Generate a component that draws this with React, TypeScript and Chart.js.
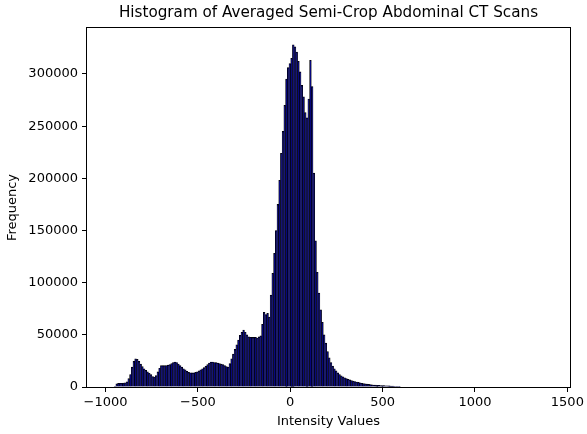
import React, { useEffect, useRef } from "react";
import { Chart, registerables } from "chart.js";

Chart.register(...registerables);

const TITLE = "Histogram of Averaged Semi-Crop Abdominal CT Scans";
const X_LABEL = "Intensity Values";
const Y_LABEL = "Frequency";

const BIN_START = -981;
const BIN_WIDTH = 9.28;

const COUNTS = [
  0, 0, 0, 200, 3000, 3500, 3600, 3600, 3700, 4000,
  5000, 8000, 12000, 19000, 24500, 27000, 26500, 24500, 22000, 19500,
  17500, 16000, 14500, 13200, 12000, 10000, 9500, 11000, 14500, 18000,
  20500, 20500, 20500, 20500, 21000, 21500, 22500, 23500, 24000, 23500,
  22000, 20500, 19000, 17500, 16500, 15000, 14000, 13500, 13500, 13500,
  14000, 14500, 15500, 16500, 17500, 18500, 20000, 21500, 23000, 24000,
  24000, 23500, 23300, 23000, 22500, 22000, 21500, 20500, 19500, 19000,
  22500, 27000, 31500, 36000, 40500, 45000, 49500, 52500, 54500, 52500,
  50000, 48000, 47500, 47500, 47500, 47500, 47000, 48000, 49000, 60000,
  71500, 69500, 70500, 67000, 88000, 109000, 128000, 150000, 175000, 198000,
  224000, 245000, 270000, 295000, 306000, 310000, 315000, 328000, 326000, 321000,
  312000, 302000, 289000, 278000, 263000, 258000, 276000, 313000, 288000, 205000,
  140000, 110000, 90000, 74000, 62000, 50000, 42000, 34000, 28000, 23500,
  20000, 17500, 15500, 13500, 12000, 10800, 9800, 8900, 8100, 7400,
  6800, 6200, 5700, 5200, 4800, 4400, 4000, 3600, 3300, 3000,
  2700, 2500, 2300, 2100, 1950, 1800, 1650, 1550, 1450, 1350,
  1250, 1200, 1100, 1050, 1000, 950, 300, 250, 200, 150,
];

const X_TICKS = [-1000, -500, 0, 500, 1000, 1500];
const Y_TICKS = [0, 50000, 100000, 150000, 200000, 250000, 300000];
const X_MIN = -1100;
const X_MAX = 1514;
const Y_MAX = 344000;

const FONT = "'DejaVu Sans', sans-serif";

export default function App() {
  const ref = useRef<HTMLCanvasElement>(null);

  useEffect(() => {
    document.body.style.margin = "0";
    const canvas = ref.current;
    if (!canvas) return;

    const points = COUNTS.map((c, i) => ({
      x: BIN_START + BIN_WIDTH * (i + 0.5),
      y: c,
    }));

    const frame = {
      id: "frame",
      afterDraw(chart: any) {
        const { ctx, chartArea: a } = chart;
        ctx.save();
        ctx.strokeStyle = "#000";
        ctx.lineWidth = 1;
        const l = Math.round(a.left) - 0.5;
        const r = Math.round(a.right) + 0.5;
        const t = Math.round(a.top) - 0.5;
        const b = Math.round(a.bottom) + 0.5;
        ctx.strokeRect(l, t, r - l, b - t);
        ctx.restore();
      },
    };

    const chart = new Chart(canvas, {
      type: "bar",
      data: {
        datasets: [
          {
            data: points as any,
            backgroundColor: "#000080",
            borderColor: "#000000",
            borderWidth: 0.7,
            barPercentage: 1,
            categoryPercentage: 1,
            grouped: false,
          },
        ],
      },
      options: {
        animation: false,
        responsive: false,
        devicePixelRatio: 1,
        layout: { padding: { left: 0, right: 15, top: 0, bottom: 0 } },
        plugins: {
          legend: { display: false },
          tooltip: { enabled: false },
          title: {
            display: true,
            fullSize: false,
            text: TITLE,
            color: "#000",
            font: { family: FONT, size: 15.2, weight: "normal" },
            padding: { top: 4, bottom: 5.8 },
          },
        },
        scales: {
          x: {
            type: "linear",
            min: X_MIN,
            max: X_MAX,
            offset: false,
            afterBuildTicks: (scale: any) => {
              scale.ticks = X_TICKS.map((v) => ({ value: v }));
            },
            afterFit: (scale: any) => {
              scale.height = 47;
            },
            grid: {
              display: true,
              drawOnChartArea: false,
              drawTicks: true,
              tickLength: 5,
              color: "#000",
              offset: false,
            },
            border: { display: false },
            ticks: {
              color: "#000",
              font: { family: FONT, size: 13 },
              padding: 3,
              maxRotation: 0,
              autoSkip: false,
              callback: (v: any) => (v < 0 ? "\u2212" + Math.abs(v) : String(v)),
            },
            title: {
              display: true,
              text: X_LABEL,
              color: "#000",
              font: { family: FONT, size: 13 },
              padding: { top: 0, bottom: 5 },
            },
          },
          y: {
            type: "linear",
            min: 0,
            max: Y_MAX,
            afterBuildTicks: (scale: any) => {
              scale.ticks = Y_TICKS.map((v) => ({ value: v }));
            },
            afterFit: (scale: any) => {
              scale.width = 87;
            },
            grid: {
              display: true,
              drawOnChartArea: false,
              drawTicks: true,
              tickLength: 5,
              color: "#000",
            },
            border: { display: false },
            ticks: {
              color: "#000",
              font: { family: FONT, size: 13 },
              padding: 4,
              autoSkip: false,
              callback: (v: any) => String(v),
            },
            title: {
              display: true,
              text: Y_LABEL,
              color: "#000",
              font: { family: FONT, size: 13 },
              padding: { top: 5, bottom: 0 },
            },
          },
        },
      },
      plugins: [frame],
    });

    return () => chart.destroy();
  }, []);

  return (
    <div style={{ width: 587, height: 434, position: "relative" }}>
      <canvas ref={ref} width={587} height={434} style={{ display: "block" }} />
    </div>
  );
}
